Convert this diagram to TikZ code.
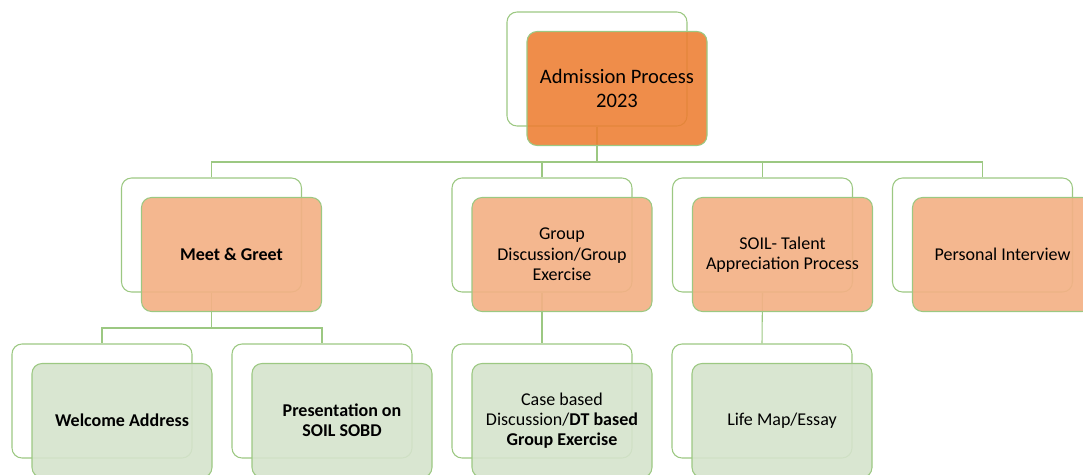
\documentclass[tikz,border=0pt]{standalone}
\usepackage{fontspec}
\setmainfont{Carlito}
\definecolor{edgecol}{HTML}{9CC882}
\definecolor{linkcol}{HTML}{9CC882}
\definecolor{topfill}{HTML}{ED7D31}
\definecolor{midfill}{HTML}{F3B186}
\definecolor{lowfill}{HTML}{D5E3CC}
\begin{document}
\begin{tikzpicture}[x=0.75pt,y=-0.75pt,
  box/.style={rectangle, rounded corners=7.5pt, draw=edgecol, line width=0.8pt,
    minimum width=135pt, minimum height=85.5pt, inner sep=0pt, align=center},
  backbox/.style={box},
  topfront/.style={box, fill=topfill, fill opacity=0.88, text opacity=1,
    font=\fontsize{15.4}{18}\selectfont},
  midfront/.style={box, fill=midfill, fill opacity=0.92, text opacity=1,
    font=\fontsize{13.5}{15.4}\selectfont},
  lowfront/.style={box, fill=lowfill, fill opacity=0.9, text opacity=1,
    font=\fontsize{13.5}{15}\selectfont},
  link/.style={draw=linkcol, line width=0.8pt}]
\useasboundingbox (0,0) rectangle (1083,475);
\clip (0,0) rectangle (1083,475);
% back boxes
\node[backbox] (topB) at (597,69) {};
\node[backbox] (mgB) at (211.5,235) {};
\node[backbox] (gdB) at (542,235) {};
\node[backbox] (stB) at (762.5,235) {};
\node[backbox] (piB) at (982.5,235) {};
\node[backbox] (waB) at (102,401) {};
\node[backbox] (psB) at (322,401) {};
\node[backbox] (cbB) at (542,401) {};
\node[backbox] (lmB) at (762,401) {};
% bus coordinates
\coordinate (busA) at (0,162);
\coordinate (busB) at (0,328);
% connectors
\draw[link] (topB.south) -- (topB.south |- busA) -| (mgB.north);
\draw[link] (topB.south |- busA) -| (gdB.north);
\draw[link] (topB.south |- busA) -| (stB.north);
\draw[link] (topB.south |- busA) -| (piB.north);
\draw[link] (mgB.south) -- (mgB.south |- busB) -| (waB.north);
\draw[link] (mgB.south |- busB) -| (psB.north);
\draw[link] (gdB.south) -- (cbB.north);
\draw[link] (stB.south) -- (lmB.north);
% front boxes
\node[topfront] (topF) at (617,88.5) {Admission Process\\2023};
\node[midfront] (mgF) at (231.5,254.5) {\textbf{Meet \& Greet}};
\node[midfront] (gdF) at (562,254.5) {Group\\Discussion/Group\\Exercise};
\node[midfront] (stF) at (782.5,254.5) {SOIL- Talent\\Appreciation Process};
\node[midfront] (piF) at (1002.5,254.5) {Personal Interview};
\node[lowfront] (waF) at (122,420.5) {\textbf{Welcome Address}};
\node[lowfront] (psF) at (342,420.5) {\textbf{Presentation on}\\\textbf{SOIL SOBD}};
\node[lowfront] (cbF) at (562,420.5) {Case based\\Discussion/\textbf{DT based}\\\textbf{Group Exercise}};
\node[lowfront] (lmF) at (782,420.5) {Life Map/Essay};
\end{tikzpicture}
\end{document}
